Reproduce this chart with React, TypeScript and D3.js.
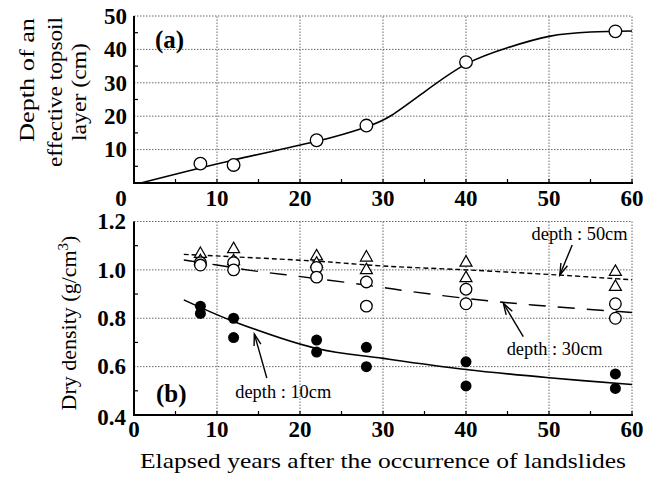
import React from "react";
import * as d3 from "d3";

// Panel (a): effective topsoil depth (cm) vs elapsed years
const yearsA = [8, 12, 22, 28, 40, 58];
const depthA = [5.8, 5.4, 12.8, 17.2, 36.2, 45.4];
const curveAX = [0.8, 12, 22, 28, 31, 35, 40, 45, 50, 55, 60];
const curveAY = [0, 6.9, 12.5, 16.8, 20.2, 27.3, 35.6, 40.5, 43.9, 45.2, 45.5];

// Panel (b): dry density (g/cm3), two samples per year and depth
const yearsB = [8, 12, 22, 28, 40, 58];
const dens10a = [0.85, 0.8, 0.71, 0.68, 0.62, 0.57];
const dens10b = [0.82, 0.72, 0.66, 0.6, 0.52, 0.51];
const dens30a = [1.03, 1.03, 1.01, 0.95, 0.92, 0.86];
const dens30b = [1.02, 1.0, 0.97, 0.85, 0.86, 0.8];
const dens50a = [1.07, 1.09, 1.06, 1.055, 1.034, 0.996];
const dens50b = [1.04, 1.04, 1.03, 1.003, 0.97, 0.934];

// Fitted trend lines
const fitX10 = [6, 12, 22, 30, 40, 50, 60];
const fitY10 = [0.876, 0.787, 0.675, 0.634, 0.588, 0.554, 0.526];
const fitX30 = [6, 10, 14, 18, 22, 29, 32, 40, 48, 60];
const fitY30 = [1.041, 1.02, 0.998, 0.981, 0.964, 0.932, 0.917, 0.882, 0.855, 0.824];
const fitX50 = [6, 22, 30, 40, 51, 60];
const fitY50 = [1.064, 1.036, 1.016, 1.0, 0.979, 0.959];

const xTicks = [0, 10, 20, 30, 40, 50, 60];
const yTicksA = [10, 20, 30, 40, 50];
const yTicksB = [0.4, 0.6, 0.8, 1.0, 1.2];

const labelsB = [
  { text: "depth : 10cm", tx: 12.2, ty: 0.47, ax0: 16.0, ay0: 0.553, ax1: 14.5, ay1: 0.735 },
  { text: "depth : 30cm", tx: 44.9, ty: 0.648, ax0: 46.9, ay0: 0.724, ax1: 44.5, ay1: 0.862 },
  { text: "depth : 50cm", tx: 47.9, ty: 1.124, ax0: 52.8, ay0: 1.103, ax1: 51.3, ay1: 0.979 },
];

const W = 659;
const H = 479;
const SERIF = "Liberation Serif";

const x = d3.scaleLinear().domain([0, 60]).range([134, 632]);
const yA = d3.scaleLinear().domain([0, 50]).range([183, 16]);
const yB = d3.scaleLinear().domain([0.4, 1.2]).range([415, 221.5]);

const lineA = d3
  .line<number>()
  .x((d, i) => x(curveAX[i]))
  .y((d) => yA(d))
  .curve(d3.curveNatural);

function fitLine(xs: number[], ys: number[]) {
  return d3
    .line<number>()
    .x((d, i) => x(xs[i]))
    .y((d) => yB(d))
    .curve(d3.curveCatmullRom.alpha(0.5))(ys) as string;
}

function Grid({ y, yTicks, yMinor }: { y: d3.ScaleLinear<number, number>; yTicks: number[]; yMinor: number[] }) {
  const [y0, y1] = y.range();
  const grid = { stroke: "#6a6a6a", strokeWidth: 1, strokeDasharray: "1.5,1.5" };
  return (
    <g>
      {xTicks.slice(1).map((t) => (
        <line key={"gx" + t} x1={x(t)} x2={x(t)} y1={y0} y2={y1} {...grid} />
      ))}
      {yTicks.filter((t) => t !== y.domain()[0]).map((t) => (
        <line key={"gy" + t} x1={x(0)} x2={x(60)} y1={y(t)} y2={y(t)} {...grid} />
      ))}
      {d3.range(0, 61, 5).map((t) => (
        <line key={"tx" + t} x1={x(t)} x2={x(t)} y1={y0} y2={y0 - 4} stroke="#000" strokeWidth={1.2} />
      ))}
      {yMinor.map((t) => (
        <line key={"ty" + t} x1={x(0)} x2={x(0) + 4} y1={y(t)} y2={y(t)} stroke="#000" strokeWidth={1.2} />
      ))}
      <line x1={x(0)} x2={x(0)} y1={y0 + 1} y2={y1} stroke="#000" strokeWidth={2} />
      <line x1={x(0) - 1} x2={x(60) + 1} y1={y0} y2={y0} stroke="#000" strokeWidth={2} />
    </g>
  );
}

function Tri({ cx, cy }: { cx: number; cy: number }) {
  const s = 6;
  return (
    <path
      d={`M${cx},${cy - s}L${cx + s},${cy + s * 0.75}L${cx - s},${cy + s * 0.75}Z`}
      fill="#fff"
      stroke="#000"
      strokeWidth={1.2}
    />
  );
}

function Arrow({ x0, y0, x1, y1 }: { x0: number; y0: number; x1: number; y1: number }) {
  const ang = Math.atan2(y1 - y0, x1 - x0);
  const L = 12;
  const spread = 0.3;
  const p1 = [x1 - L * Math.cos(ang - spread), y1 - L * Math.sin(ang - spread)];
  const p2 = [x1 - L * Math.cos(ang + spread), y1 - L * Math.sin(ang + spread)];
  return (
    <g stroke="#000" strokeWidth={1.4} fill="none">
      <line x1={x0} y1={y0} x2={x1} y2={y1} />
      <polyline points={`${p1[0]},${p1[1]} ${x1},${y1} ${p2[0]},${p2[1]}`} />
    </g>
  );
}

export default function App() {
  const tickStyle = { fontFamily: SERIF, fontWeight: 700, fontSize: 23 } as const;
  return (
    <svg width={W} height={H} style={{ position: "absolute", left: 0, top: 0, background: "#fff" }}>
      <rect width={W} height={H} fill="#fff" />

      {/* Panel (a) */}
      <Grid y={yA} yTicks={yTicksA} yMinor={[5, 15, 25, 35, 45]} />
      <path d={lineA(curveAY) as string} fill="none" stroke="#000" strokeWidth={1.6} />
      {yearsA.map((t, i) => (
        <circle key={"a" + i} cx={x(t)} cy={yA(depthA[i])} r={6.3} fill="#fff" stroke="#000" strokeWidth={1.3} />
      ))}
      {yTicksA.map((t) => (
        <text key={"la" + t} x={127} y={yA(t)} dy="0.34em" textAnchor="end" {...tickStyle}>
          {t}
        </text>
      ))}
      {xTicks.map((t) => (
        <text key={"lxa" + t} x={t === 0 ? 121 : x(t)} y={206} textAnchor="middle" {...tickStyle}>
          {t}
        </text>
      ))}
      <text x={155} y={48} fontFamily={SERIF} fontWeight={700} fontSize={25}>
        (a)
      </text>
      <g fontFamily={SERIF} fontSize={22}>
        <text transform="translate(34,80) rotate(-90)" textAnchor="middle" textLength={124} lengthAdjust="spacingAndGlyphs">
          Depth of an
        </text>
        <text transform="translate(62,92) rotate(-90)" textAnchor="middle" textLength={150} lengthAdjust="spacingAndGlyphs">
          effective topsoil
        </text>
        <text transform="translate(86,92) rotate(-90)" textAnchor="middle" textLength={98} lengthAdjust="spacingAndGlyphs">
          layer (cm)
        </text>
      </g>

      {/* Panel (b) */}
      <Grid y={yB} yTicks={yTicksB} yMinor={[0.5, 0.7, 0.9, 1.1]} />
      <path d={fitLine(fitX10, fitY10)} fill="none" stroke="#000" strokeWidth={1.6} />
      <path d={fitLine(fitX30, fitY30)} fill="none" stroke="#000" strokeWidth={1.4} strokeDasharray="17,12" />
      <path d={fitLine(fitX50, fitY50)} fill="none" stroke="#000" strokeWidth={1.4} strokeDasharray="5,3" />
      {yearsB.map((t, i) => (
        <g key={"b" + i}>
          <Tri cx={x(t)} cy={yB(dens50a[i])} />
          <Tri cx={x(t)} cy={yB(dens50b[i])} />
          <circle cx={x(t)} cy={yB(dens30a[i])} r={5.8} fill="#fff" stroke="#000" strokeWidth={1.3} />
          <circle cx={x(t)} cy={yB(dens30b[i])} r={5.8} fill="#fff" stroke="#000" strokeWidth={1.3} />
          <circle cx={x(t)} cy={yB(dens10a[i])} r={5.5} fill="#000" />
          <circle cx={x(t)} cy={yB(dens10b[i])} r={5.5} fill="#000" />
        </g>
      ))}
      {labelsB.map((l) => (
        <g key={l.text}>
          <Arrow x0={x(l.ax0)} y0={yB(l.ay0)} x1={x(l.ax1)} y1={yB(l.ay1)} />
          <text x={x(l.tx)} y={yB(l.ty)} fontFamily={SERIF} fontSize={19} textLength={96} lengthAdjust="spacingAndGlyphs">
            {l.text}
          </text>
        </g>
      ))}
      {yTicksB.map((t) => (
        <text key={"lb" + t} x={126} y={yB(t) + (t === 0.4 ? 2 : 0)} dy="0.34em" textAnchor="end" {...tickStyle}>
          {d3.format(".1f")(t)}
        </text>
      ))}
      {xTicks.map((t) => (
        <text key={"lxb" + t} x={x(t)} y={437} textAnchor="middle" {...tickStyle}>
          {t}
        </text>
      ))}
      <text x={156} y={402} fontFamily={SERIF} fontWeight={700} fontSize={25}>
        (b)
      </text>
      <text transform="translate(76,323) rotate(-90)" textAnchor="middle" fontFamily={SERIF} fontSize={22}>
        Dry density (g/cm<tspan dy="-8" fontSize={15}>3</tspan>
        <tspan dy="8">)</tspan>
      </text>
      <text
        x={383}
        y={468}
        textAnchor="middle"
        fontFamily={SERIF}
        fontSize={22}
        textLength={486}
        lengthAdjust="spacingAndGlyphs"
      >
        Elapsed years after the occurrence of landslides
      </text>
    </svg>
  );
}
